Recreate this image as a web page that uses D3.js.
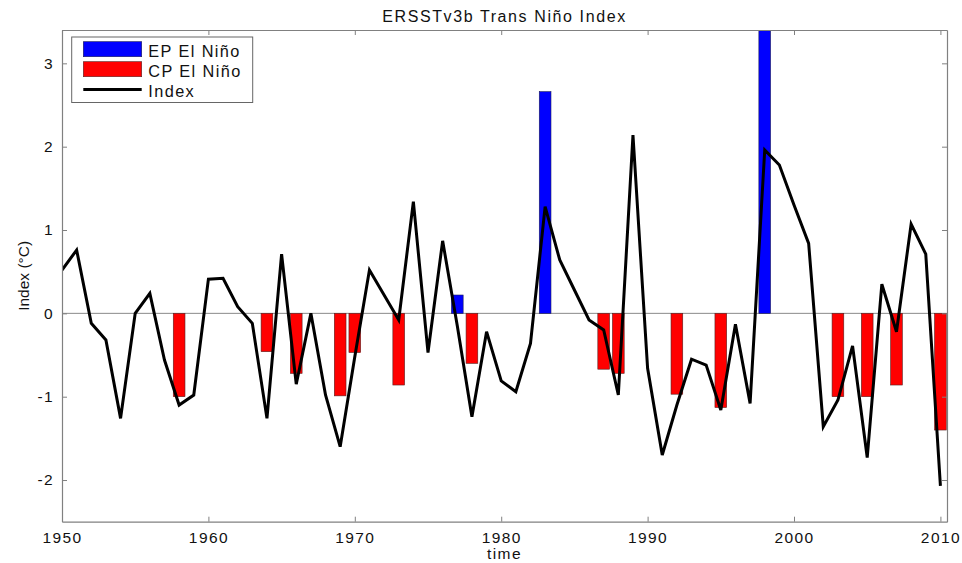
<!DOCTYPE html>
<html>
<head>
<meta charset="utf-8">
<script src="https://cdn.jsdelivr.net/npm/d3@7"></script>
<style>
  body { margin: 0; background: #fff; }
</style>
</head>
<body>
<div id="idMyCanvas"></div>
<script>
// yearly index values 1950..2010
let years = d3.range(1950, 2011);
let index_vals = [
  0.52, 0.76, -0.12, -0.32, -1.26, 0.0, 0.24, -0.56, -1.1, -0.98,
  0.41, 0.42, 0.08, -0.12, -1.26, 0.71, -0.85, 0.0, -0.98, -1.6,
  -0.52, 0.52, 0.22, -0.08, 1.34, -0.47, 0.87, -0.15, -1.24, -0.22,
  -0.81, -0.94, -0.36, 1.28, 0.64, 0.28, -0.08, -0.2, -0.98, 2.14,
  -0.66, -1.7, -1.1, -0.55, -0.62, -1.16, -0.13, -1.08, 1.96, 1.78,
  1.3, 0.84, -1.36, -1.04, -0.39, -1.73, 0.35, -0.22, 1.07, 0.71,
  -2.07
];

let ep_years = [1977, 1983, 1998];
let ep_vals = [0.22, 2.66, 3.6];

let cp_years = [1958, 1964, 1966, 1969, 1970, 1973, 1978, 1987, 1988, 1992, 1995, 2003, 2005, 2007, 2010];
let cp_vals = [-1.0, -0.46, -0.72, -0.99, -0.47, -0.86, -0.6, -0.67, -0.72, -0.97, -1.13, -1.0, -1.0, -0.86, -1.4];

let x_ticks = [1950, 1960, 1970, 1980, 1990, 2000, 2010];
let y_ticks = [-2, -1, 0, 1, 2, 3];

let legend_labels = ["EP El Niño", "CP El Niño", "Index"];

let canvas_w = 962;
let canvas_h = 563;
let plot_x0 = 62, plot_x1 = 947;
let plot_y0 = 30, plot_y1 = 521.7;
let font_family = "'Liberation Sans', Arial, Helvetica, sans-serif";
let axis_color = "#808080";

let svg_obj = d3.select("#idMyCanvas")
                .append("svg")
                  .attr("width", canvas_w)
                  .attr("height", canvas_h)
                  .attr("xmlns", "http://www.w3.org/2000/svg");

let x = d3.scaleLinear().domain([1950, 2010.45]).range([plot_x0, plot_x1]);
let y = d3.scaleLinear().domain([-2.5, 3.4]).range([plot_y1, plot_y0]);

let bar_w = x(1950.8) - x(1950);

svg_obj.append("clipPath")
    .attr("id", "plotclip")
  .append("rect")
    .attr("x", plot_x0)
    .attr("y", plot_y0)
    .attr("width", plot_x1 - plot_x0)
    .attr("height", plot_y1 - plot_y0);

let plot_g = svg_obj.append("g").attr("clip-path", "url(#plotclip)");

// zero line
plot_g.append("line")
    .attr("x1", plot_x0).attr("x2", plot_x1)
    .attr("y1", y(0)).attr("y2", y(0))
    .attr("stroke", "#8a8a8a")
    .attr("stroke-width", 1);

// EP bars (blue)
plot_g.selectAll(".ep")
  .data(ep_years)
  .enter().append("rect")
    .attr("class", "ep")
    .attr("x", d => x(d) - bar_w / 2)
    .attr("width", bar_w)
    .attr("y", (d, i) => y(Math.max(0, ep_vals[i])))
    .attr("height", (d, i) => Math.abs(y(ep_vals[i]) - y(0)))
    .attr("fill", "#0000ff")
    .attr("stroke", "#1a1a55")
    .attr("stroke-width", 0.6);

// CP bars (red)
plot_g.selectAll(".cp")
  .data(cp_years)
  .enter().append("rect")
    .attr("class", "cp")
    .attr("x", d => x(d) - bar_w / 2)
    .attr("width", bar_w)
    .attr("y", (d, i) => y(Math.max(0, cp_vals[i])))
    .attr("height", (d, i) => Math.abs(y(cp_vals[i]) - y(0)))
    .attr("fill", "#ff0000")
    .attr("stroke", "#552222")
    .attr("stroke-width", 0.6);

// index line
let line_gen = d3.line()
  .x((d, i) => x(years[i]))
  .y(d => y(d));

plot_g.append("path")
    .datum(index_vals)
    .attr("d", line_gen)
    .attr("fill", "none")
    .attr("stroke", "#000")
    .attr("stroke-width", 3)
    .attr("stroke-linejoin", "miter");

// axes (ticks inside, MATLAB style)
function style_axis(g, show_labels) {
  g.select(".domain").attr("stroke", axis_color).attr("stroke-width", 1.2);
  g.selectAll(".tick line").attr("stroke", axis_color);
  g.selectAll(".tick text")
    .attr("fill", "#111")
    .attr("font-family", font_family)
    .attr("font-size", "15.5px")
    .attr("letter-spacing", "1.4px");
  if (!show_labels) g.selectAll(".tick text").remove();
}

let plain_fmt = d => String(d); // hyphen minus, like the original

svg_obj.append("g")
    .attr("transform", "translate(0," + plot_y1 + ")")
    .call(d3.axisBottom(x).tickValues(x_ticks).tickFormat(plain_fmt)
            .tickSizeInner(-5).tickSizeOuter(0).tickPadding(10))
    .call(g => style_axis(g, true));

svg_obj.append("g")
    .attr("transform", "translate(0," + plot_y0 + ")")
    .call(d3.axisTop(x).tickValues(x_ticks).tickSizeInner(-5).tickSizeOuter(0))
    .call(g => style_axis(g, false));

svg_obj.append("g")
    .attr("transform", "translate(" + plot_x0 + ",0)")
    .call(d3.axisLeft(y).tickValues(y_ticks).tickFormat(plain_fmt)
            .tickSizeInner(-5).tickSizeOuter(0).tickPadding(8))
    .call(g => style_axis(g, true));

svg_obj.append("g")
    .attr("transform", "translate(" + plot_x1 + ",0)")
    .call(d3.axisRight(y).tickValues(y_ticks).tickSizeInner(-5).tickSizeOuter(0))
    .call(g => style_axis(g, false));

// title & axis labels
svg_obj.append("text")
    .attr("x", (plot_x0 + plot_x1) / 2)
    .attr("y", 22)
    .attr("text-anchor", "middle")
    .attr("font-family", font_family)
    .attr("font-size", "16px")
    .attr("letter-spacing", "1.6px")
    .attr("fill", "#111")
    .text("ERSSTv3b Trans Niño Index");

svg_obj.append("text")
    .attr("x", (plot_x0 + plot_x1) / 2)
    .attr("y", 559)
    .attr("text-anchor", "middle")
    .attr("font-family", font_family)
    .attr("font-size", "15.5px")
    .attr("letter-spacing", "1.4px")
    .attr("fill", "#111")
    .text("time");

svg_obj.append("text")
    .attr("transform", "translate(29," + ((plot_y0 + plot_y1) / 2) + ") rotate(-90)")
    .attr("text-anchor", "middle")
    .attr("font-family", font_family)
    .attr("font-size", "15.5px")
    .attr("fill", "#111")
    .text("Index (°C)");

// legend
let legend_g = svg_obj.append("g");

legend_g.append("rect")
    .attr("x", 71.7)
    .attr("y", 37)
    .attr("width", 181)
    .attr("height", 65.5)
    .attr("fill", "#fff")
    .attr("stroke", "#666")
    .attr("stroke-width", 1);

let legend_fill = ["#0000ff", "#ff0000"];
let legend_stroke = ["#1a1a55", "#552222"];

legend_g.selectAll(".lg_patch")
  .data(legend_labels.slice(0, 2))
  .enter().append("rect")
    .attr("class", "lg_patch")
    .attr("x", 83.3)
    .attr("y", (d, i) => 41.7 + i * 20)
    .attr("width", 58.4)
    .attr("height", 15)
    .attr("fill", (d, i) => legend_fill[i])
    .attr("stroke", (d, i) => legend_stroke[i])
    .attr("stroke-width", 0.6);

legend_g.append("line")
    .attr("x1", 83.3).attr("x2", 141.7)
    .attr("y1", 89.5).attr("y2", 89.5)
    .attr("stroke", "#000")
    .attr("stroke-width", 3);

legend_g.selectAll(".lg_text")
  .data(legend_labels)
  .enter().append("text")
    .attr("class", "lg_text")
    .attr("x", 148.3)
    .attr("y", (d, i) => 56.7 + i * 20)
    .attr("font-family", font_family)
    .attr("font-size", "16.3px")
    .attr("letter-spacing", "1.4px")
    .attr("fill", "#111")
    .text(d => d);
</script>
</body>
</html>
